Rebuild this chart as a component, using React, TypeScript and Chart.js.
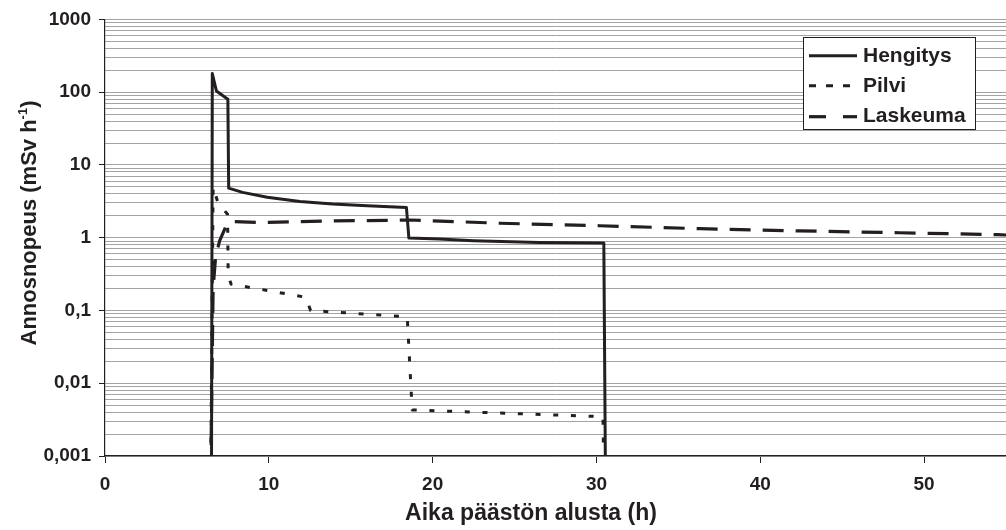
import { useEffect, useRef } from "react";
import { Chart, registerables } from "chart.js";

Chart.register(...registerables);

// ---- data ----
const SERIES_NAMES = ["Hengitys", "Pilvi", "Laskeuma"];

const hengitysX = [6.5, 6.55, 6.8, 7.5, 7.55, 8.4, 9.9, 11.9, 13.9, 16.0, 18.4, 18.55, 20.4, 22.5, 26.5, 30.45, 30.55];
const hengitysY = [0.0005, 180, 104, 80, 4.8, 4.2, 3.6, 3.15, 2.9, 2.75, 2.6, 0.99, 0.96, 0.91, 0.86, 0.845, 0.0005];

const pilviX = [6.45, 6.6, 6.9, 7.48, 7.52, 7.7, 12.25, 12.55, 18.0, 18.45, 18.75, 30.0, 30.4, 30.45];
const pilviY = [0.0005, 5, 3.0, 2.1, 0.3, 0.23, 0.152, 0.1, 0.083, 0.082, 0.0043, 0.0035, 0.0035, 0.0005];

const laskeumaX = [6.45, 6.6, 6.75, 7.0, 7.4, 7.8, 9.45, 14, 18.6, 24.1, 30.2, 36.3, 42.4, 48.5, 54.5, 55];
const laskeumaY = [0.0005, 0.2, 0.54, 0.91, 1.46, 1.67, 1.62, 1.7, 1.75, 1.58, 1.46, 1.33, 1.24, 1.17, 1.1, 1.09];

const X_TICKS = [0, 10, 20, 30, 40, 50];
const Y_MAJOR = [0.001, 0.01, 0.1, 1, 10, 100, 1000];
const Y_LABELS = ["0,001", "0,01", "0,1", "1", "10", "100", "1000"];

const X_TITLE = "Aika päästön alusta (h)";
const Y_TITLE_MAIN = "Annosnopeus (mSv h";
const Y_TITLE_SUP = "-1";
const Y_TITLE_TAIL = ")";

// ---- styles ----
const DARK = "#231f20";
const GRID = "#a3a3a3";
const FONT = "'Liberation Sans', Arial, Helvetica, sans-serif";

function yTickValues(): number[] {
  const out: number[] = [];
  for (let e = -3; e <= 2; e++) {
    for (let m = 1; m <= 9; m++) {
      out.push(Number((m * Math.pow(10, e)).toPrecision(6)));
    }
  }
  out.push(1000);
  return out;
}

function majorIndex(v: number): number {
  return Y_MAJOR.findIndex((m) => Math.abs(Math.log10(m) - Math.log10(v)) < 1e-6);
}

function pts(xs: number[], ys: number[]) {
  return xs.map((x, i) => ({ x, y: ys[i] }));
}

const overlayPlugin = {
  id: "overlay",
  afterDraw(chart: any) {
    const c = chart.ctx as CanvasRenderingContext2D;
    c.save();
    c.fillStyle = DARK;

    // x title
    c.font = `bold 23px ${FONT}`;
    c.textAlign = "center";
    c.textBaseline = "alphabetic";
    c.fillText(X_TITLE, 531, 520);

    // y title with superscript
    c.save();
    c.translate(36, 223);
    c.rotate(-Math.PI / 2);
    const big = `bold 22px ${FONT}`;
    const small = `bold 13px ${FONT}`;
    c.font = big;
    const w1 = c.measureText(Y_TITLE_MAIN).width;
    const w3 = c.measureText(Y_TITLE_TAIL).width;
    c.font = small;
    const w2 = c.measureText(Y_TITLE_SUP).width;
    let x = -(w1 + w2 + w3) / 2;
    c.textAlign = "left";
    c.font = big;
    c.fillText(Y_TITLE_MAIN, x, 0);
    x += w1;
    c.font = small;
    c.fillText(Y_TITLE_SUP, x, -9);
    x += w2;
    c.font = big;
    c.fillText(Y_TITLE_TAIL, x, 0);
    c.restore();

    // legend
    const bx = 803.5, by = 37.5, bw = 172, bh = 92;
    c.fillStyle = "#ffffff";
    c.fillRect(bx, by, bw, bh);
    c.strokeStyle = DARK;
    c.lineWidth = 1;
    c.setLineDash([]);
    c.strokeRect(bx, by, bw, bh);

    const lineYs = [55.7, 85.7, 116.7];
    const textYs = [61.7, 91.7, 122.3];
    const dashes = [[], [7, 10], [17, 17]];
    const widths = [3, 3, 3.2];
    for (let i = 0; i < SERIES_NAMES.length; i++) {
      c.strokeStyle = DARK;
      c.lineWidth = widths[i];
      c.setLineDash(dashes[i]);
      c.beginPath();
      c.moveTo(809, lineYs[i]);
      c.lineTo(857, lineYs[i]);
      c.stroke();
      c.setLineDash([]);
      c.fillStyle = DARK;
      c.font = `bold 21px ${FONT}`;
      c.textAlign = "left";
      c.textBaseline = "alphabetic";
      c.fillText(SERIES_NAMES[i], 863, textYs[i]);
    }
    c.restore();
  },
};

export default function App() {
  const ref = useRef<HTMLCanvasElement | null>(null);

  useEffect(() => {
    if (!ref.current) return;
    const yTicks = yTickValues();
    const chart = new Chart(ref.current, {
      type: "line",
      data: {
        datasets: [
          {
            label: SERIES_NAMES[0],
            data: pts(hengitysX, hengitysY),
            borderColor: DARK,
            borderWidth: 3,
            borderJoinStyle: "round",
            pointRadius: 0,
            tension: 0,
            fill: false,
          },
          {
            label: SERIES_NAMES[1],
            data: pts(pilviX, pilviY),
            borderColor: DARK,
            borderWidth: 3,
            borderDash: [5, 12.7],
            borderJoinStyle: "round",
            pointRadius: 0,
            tension: 0,
            fill: false,
          },
          {
            label: SERIES_NAMES[2],
            data: pts(laskeumaX, laskeumaY),
            borderColor: DARK,
            borderWidth: 3.2,
            borderDash: [21, 12],
            borderJoinStyle: "round",
            pointRadius: 0,
            tension: 0,
            fill: false,
          },
        ],
      },
      options: {
        animation: false,
        responsive: false,
        devicePixelRatio: 1,
        layout: { padding: { top: 18, right: 0, left: 0, bottom: 0 } },
        plugins: {
          legend: { display: false },
          tooltip: { enabled: false },
        },
        scales: {
          x: {
            type: "linear",
            min: 0,
            max: 55,
            afterBuildTicks: (s: any) => {
              s.ticks = X_TICKS.map((v) => ({ value: v }));
            },
            afterFit: (s: any) => {
              s.height = 74;
            },
            grid: {
              drawOnChartArea: false,
              drawTicks: true,
              tickLength: 7,
              tickColor: DARK,
              tickWidth: 1,
            },
            border: { display: true, color: DARK, width: 1.2 },
            ticks: {
              autoSkip: false,
              maxRotation: 0,
              color: DARK,
              padding: 10,
              font: { family: FONT, size: 19, weight: "bold" },
              callback: (v: any) => String(v),
            },
          },
          y: {
            type: "logarithmic",
            min: 0.001,
            max: 1000,
            afterBuildTicks: (s: any) => {
              s.ticks = yTicks.map((v) => ({ value: v, major: majorIndex(v) >= 0 }));
            },
            afterFit: (s: any) => {
              s.width = 105;
            },
            grid: {
              color: GRID,
              lineWidth: 1,
              drawTicks: true,
              tickLength: 6,
              tickWidth: 1,
              tickColor: (ctx: any) =>
                ctx.tick && majorIndex(ctx.tick.value) >= 0 ? DARK : "rgba(0,0,0,0)",
            },
            border: { display: true, color: DARK, width: 1.2 },
            ticks: {
              autoSkip: false,
              color: DARK,
              padding: 8,
              font: { family: FONT, size: 19, weight: "bold" },
              callback: (v: any) => {
                const i = majorIndex(Number(v));
                return i >= 0 ? Y_LABELS[i] : "";
              },
            },
          },
        },
      },
      plugins: [overlayPlugin],
    } as any);
    return () => chart.destroy();
  }, []);

  return (
    <div style={{ position: "absolute", left: 0, top: 0, width: 1006, height: 530, background: "#fff" }}>
      <canvas ref={ref} width={1006} height={530} style={{ display: "block", width: 1006, height: 530 }} />
    </div>
  );
}
